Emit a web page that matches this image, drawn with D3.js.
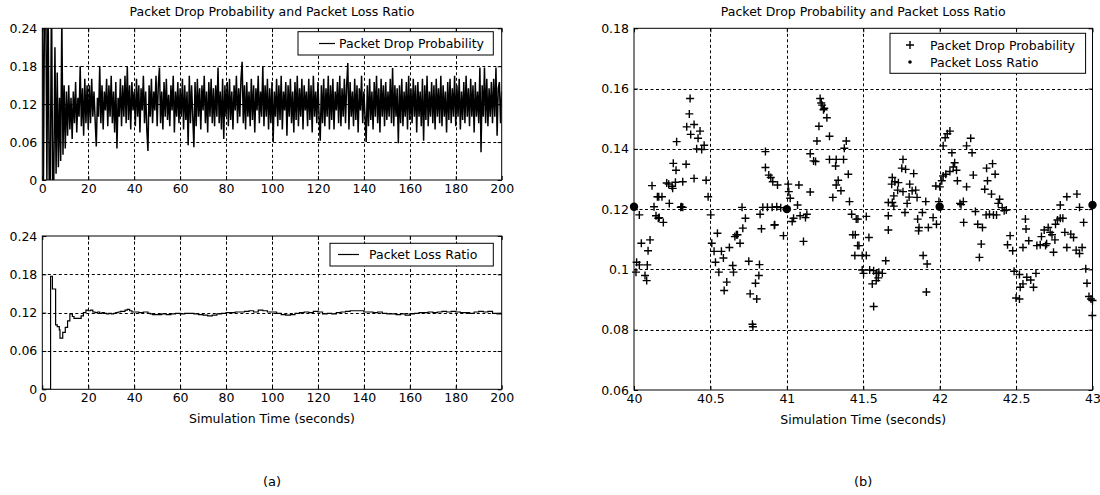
<!DOCTYPE html>
<html><head><meta charset="utf-8">
<script src="https://cdn.jsdelivr.net/npm/d3@7"></script>
<style>
body{margin:0;background:#fff}
text{font-family:"DejaVu Sans","Liberation Sans",Arial,sans-serif;fill:#000}
</style>
</head><body><svg id="c" width="1100" height="495"></svg>
<script>
// ---------------- data ----------------
const titleText = "Packet Drop Probability and Packet Loss Ratio";
const xAxisLabel = "Simulation Time (seconds)";
const panelLabels = ["(a)", "(b)"];
const legendDrop = "Packet Drop Probability";
const legendLoss = "Packet Loss Ratio";

const leftXTicks = [0, 20, 40, 60, 80, 100, 120, 140, 160, 180, 200];
const leftXTickLabels = ["0","20","40","60","80","100","120","140","160","180","200"];
const leftYTicks = [0, 0.06, 0.12, 0.18, 0.24];
const leftYTickLabels = ["0","0.06","0.12","0.18","0.24"];
const rightXTicks = [40, 40.5, 41, 41.5, 42, 42.5, 43];
const rightXTickLabels = ["40","40.5","41","41.5","42","42.5","43"];
const rightYTicks = [0.06, 0.08, 0.1, 0.12, 0.14, 0.16, 0.18];
const rightYTickLabels = ["0.06","0.08","0.1","0.12","0.14","0.16","0.18"];

// (a) top: packet drop probability, sampled every 0.5 s from t = 0 to 200
const dropSampleStep = 0.5;
const dropValues = [
0.30,0.00,0.30,0.30,0.00,0.30,0.00,0.00,0.30,0.00,
0.00,0.21,0.01,0.17,0.02,0.13,0.03,0.26,0.04,0.15,
0.05,
0.14,0.07,0.15,0.08,0.13,0.065,0.14,0.09,0.155,0.075,
0.13,0.10,0.18,0.085,0.145,0.07,0.16,0.09,0.15,0.08,
0.15,0.09,0.16,0.10,0.14,0.095,0.053,0.13,0.10,0.18,
0.09,0.15,0.08,0.14,0.11,0.16,0.085,0.15,0.10,0.165,
0.09,0.14,0.075,0.155,0.05,0.13,0.10,0.16,0.085,0.15,
0.10,0.165,0.09,0.18,0.095,0.15,0.08,0.155,0.11,0.14,
0.085,0.16,0.10,0.15,0.075,0.145,0.11,0.165,0.09,0.14,
0.08,0.046,0.15,0.10,0.16,0.09,0.14,0.11,0.165,0.085,
0.15,0.178,0.09,0.14,0.08,0.155,0.10,0.16,0.095,0.135,
0.085,0.15,0.11,0.165,0.075,0.14,0.10,0.155,0.09,0.145,
0.10,0.16,0.08,0.15,0.095,0.14,0.055,0.165,0.09,0.15,
0.10,0.052,0.155,0.085,0.16,0.10,0.145,0.08,0.15,0.11,
0.165,0.09,0.14,0.075,0.155,0.10,0.16,0.09,0.145,0.085,
0.15,0.10,0.178,0.09,0.14,0.08,0.16,0.065,0.15,0.10,
0.155,0.085,0.16,0.095,0.14,0.08,0.15,0.11,0.165,0.09,
0.145,0.10,0.16,0.187,0.09,0.15,0.08,0.155,0.10,0.14,
0.085,0.16,0.095,0.15,0.075,0.145,0.11,0.165,0.09,0.14,
0.10,0.18,0.085,0.15,0.10,0.16,0.08,0.145,0.09,0.155,
0.06,0.14,0.10,0.16,0.085,0.15,0.095,0.165,0.08,0.14,
0.11,0.155,0.07,0.15,0.10,0.16,0.09,0.14,0.075,0.155,
0.095,0.165,0.085,0.145,0.10,0.16,0.08,0.15,0.11,0.14,
0.085,0.16,0.095,0.15,0.075,0.165,0.10,0.14,0.09,0.155,
0.10,0.062,0.15,0.09,0.16,0.085,0.145,0.10,0.165,0.08,
0.15,0.095,0.16,0.08,0.14,0.11,0.155,0.09,0.165,0.085,
0.145,0.10,0.16,0.09,0.15,0.185,0.08,0.155,0.10,0.14,
0.085,0.16,0.095,0.15,0.075,0.145,0.11,0.165,0.09,0.14,
0.10,0.06,0.15,0.085,0.16,0.095,0.14,0.08,0.155,0.10,
0.165,0.09,0.145,0.075,0.16,0.10,0.15,0.085,0.155,0.095,
0.14,0.10,0.16,0.09,0.177,0.085,0.15,0.10,0.145,0.058,
0.15,0.09,0.16,0.085,0.14,0.10,0.155,0.08,0.165,0.095,
0.145,0.09,0.16,0.10,0.15,0.075,0.155,0.10,0.14,0.085,
0.16,0.062,0.15,0.095,0.165,0.085,0.14,0.10,0.155,0.09,
0.15,0.08,0.16,0.10,0.145,0.09,0.165,0.085,0.15,0.10,
0.14,0.075,0.155,0.095,0.16,0.09,0.145,0.10,0.165,0.085,
0.15,0.10,0.16,0.08,0.14,0.095,0.155,0.09,0.165,0.10,
0.145,0.085,0.16,0.10,0.15,0.075,0.155,0.10,0.14,0.09,
0.178,0.044,0.15,0.10,0.178,0.09,0.16,0.085,0.145,0.10,
0.155,0.09,0.16,0.10,0.178,0.07,0.145,0.155,0.09,0.14
];

// (a) bottom: packet loss ratio, [time, value] steps
const lossSeries = [
[0,0],[3.6,0.177],[4.4,0.157],[5.8,0.101],[6.5,0.098],[7.4,0.093],[7.7,0.080],[8.9,0.089],
[10.0,0.097],[11.0,0.107],[12.0,0.118],[13.1,0.114],[13.8,0.111],[16.9,0.115],[17.9,0.120],[19.0,0.124],
[20,0.123],[21,0.124],[22,0.121],[23,0.120],[24,0.121],[25,0.119],[26,0.120],[27,0.119],[28,0.118],[29,0.119],
[30,0.118],[31,0.119],[32,0.120],[33,0.121],[34,0.122],[35,0.122],[36,0.124],[37,0.125],[38,0.123],[39,0.121],
[40,0.121],[42,0.120],[44,0.121],[46,0.119],[47,0.118],[48,0.117],[50,0.117],[52,0.118],[54,0.117],[56,0.118],
[58,0.119],[60,0.118],[62,0.119],[64,0.119],[66,0.118],[68,0.117],[70,0.116],[72,0.115],[74,0.116],[76,0.118],
[78,0.119],[80,0.120],[82,0.120],[84,0.121],[86,0.121],[88,0.122],[90,0.123],[92,0.121],[94,0.124],[96,0.123],
[98,0.121],[100,0.121],[102,0.119],[104,0.117],[106,0.116],[108,0.117],[110,0.119],[112,0.120],[114,0.121],[116,0.120],
[118,0.122],[120,0.121],[122,0.118],[124,0.119],[126,0.118],[128,0.120],[130,0.121],[132,0.122],[134,0.123],[136,0.123],
[138,0.123],[140,0.121],[142,0.121],[144,0.120],[146,0.121],[148,0.119],[150,0.118],[152,0.118],[154,0.117],[156,0.118],
[158,0.116],[160,0.118],[162,0.119],[164,0.120],[166,0.120],[168,0.121],[170,0.120],[172,0.121],[174,0.122],[176,0.121],
[178,0.122],[180,0.121],[182,0.120],[184,0.120],[186,0.119],[188,0.121],[190,0.122],[192,0.121],[194,0.122],[196,0.119],
[198,0.118],[200,0.119]
];

// (b): zoomed drop probability samples [time, value]
const zoomDropPoints = [
[40.367,0.1567],[40.362,0.1516],[40.345,0.1473],[40.393,0.1481],[40.371,0.1448],[40.419,0.1435],[40.432,0.1459],[40.41,0.140],
[40.443,0.1398],[40.459,0.1412],[40.279,0.1424],[40.257,0.1352],[40.275,0.1329],[40.341,0.1349],[40.393,0.1302],[40.472,0.1296],
[40.485,0.1241],[40.502,0.1181],[40.118,0.1278],[40.214,0.1287],[40.227,0.1283],[40.249,0.1276],[40.271,0.1289],[40.319,0.1291],
[40.253,0.1269],[40.153,0.1241],[40.183,0.1241],[40.231,0.1219],[40.306,0.1206],[40.319,0.1206],[40.131,0.1208],[40.035,0.1181],
[40.144,0.1178],[40.159,0.117],[40.192,0.1156],[40.048,0.1087],[40.105,0.1098],[40.092,0.1062],[40.017,0.1024],[40.035,0.1015],
[40.087,0.1015],[40.013,0.0991],[40.072,0.098],[40.083,0.0963],[40.162,0.1241],[40.165,0.1172],[40.31,0.1208],
[40.509,0.1087],[40.546,0.112],[40.524,0.106],[40.572,0.106],[40.533,0.1024],[40.585,0.1038],[40.624,0.1073],[40.646,0.1013],
[40.555,0.0991],[40.607,0.0958],[40.59,0.093],[40.66,0.1109],[40.677,0.1115],[40.694,0.1087],[40.712,0.1137],[40.729,0.117],
[40.707,0.1206],[40.651,0.0991],[40.751,0.1027],[40.821,0.1016],[40.817,0.098],[40.795,0.0954],[40.76,0.0919],[40.803,0.0902],
[40.775,0.0818],[40.778,0.081],[40.825,0.1183],[40.834,0.1135],[40.843,0.1206],[40.873,0.1206],[40.904,0.1206],[40.921,0.1148],
[40.934,0.1208],[40.86,0.1391],[40.86,0.1338],[40.882,0.1313],[40.895,0.1305],[40.908,0.1291],[40.939,0.128],[40.978,0.1112],
[41.009,0.1283],[41.013,0.1258],[41.022,0.1236],[41.079,0.128],[41.153,0.1257],[41.044,0.117],[41.07,0.1214],[41.087,0.1178],
[41.131,0.1183],[41.109,0.1093],[41.122,0.1172],[41.035,0.1159],[40.918,0.1147],[40.96,0.1205],[40.67,0.1115],
[41.218,0.1567],[41.231,0.1545],[41.24,0.153],[41.262,0.1503],[41.21,0.1475],[41.279,0.1442],[41.197,0.1426],[41.389,0.1426],
[41.153,0.1384],[41.175,0.136],[41.188,0.1358],[41.279,0.1365],[41.323,0.1365],[41.371,0.1365],[41.376,0.1402],[41.319,0.1343],
[41.336,0.1296],[41.323,0.128],[41.402,0.1316],[41.301,0.1239],[41.354,0.1261],[41.41,0.1225],[41.424,0.1183],[41.454,0.1167],
[41.432,0.1115],[41.448,0.1115],[41.463,0.1079],[41.445,0.1046],[41.465,0.1167],[41.472,0.1079],[41.493,0.1046],[41.52,0.1046],
[41.537,0.1106],[41.52,0.1176],[41.225,0.1552],[41.245,0.1535],
[41.493,0.0998],[41.502,0.0987],[41.542,0.0998],[41.568,0.0996],[41.585,0.0987],[41.602,0.0991],[41.625,0.0987],[41.598,0.0972],
[41.585,0.0963],[41.559,0.0952],[41.568,0.0877],[41.647,0.1029],[41.664,0.1222],[41.664,0.1178],[41.664,0.1131],[41.69,0.1222],
[41.7,0.1244],[41.686,0.1283],[41.69,0.1305],[41.707,0.1291],[41.725,0.1263],[41.73,0.1288],[41.752,0.1336],[41.76,0.1365],
[41.777,0.1332],[41.83,0.1318],[41.804,0.1283],[41.82,0.1261],[41.843,0.1263],[41.852,0.1239],[41.787,0.1219],[41.773,0.1189],
[41.856,0.1167],[41.865,0.1139],[41.887,0.1189],[41.926,0.1139],[41.862,0.1128],[41.909,0.1225],[41.957,0.1172],[41.979,0.115],
[41.892,0.1046],[41.918,0.1018],[41.913,0.0925],[41.975,0.1277],[41.7,0.121],[41.76,0.1258],[41.8,0.124],
[42.001,0.1274],[42.014,0.1294],[42.023,0.131],[42.04,0.1316],[42.067,0.1325],[42.089,0.134],[42.098,0.1354],[42.11,0.1329],
[42.116,0.1294],[42.176,0.1274],[42.22,0.1313],[42.023,0.141],[42.036,0.1437],[42.05,0.145],[42.067,0.1459],[42.08,0.1387],
[42.176,0.141],[42.203,0.1435],[42.212,0.1387],[42.133,0.1219],[42.155,0.1225],[42.157,0.1156],[42.234,0.1192],[42.249,0.115],
[42.28,0.1139],[42.272,0.1084],[42.26,0.104],[42.307,0.1336],[42.346,0.1351],[42.363,0.1316],[42.313,0.1294],[42.295,0.1266],
[42.339,0.125],[42.392,0.1233],[42.383,0.1219],[42.409,0.1205],[42.422,0.1195],[42.304,0.1181],[42.326,0.1183],[42.352,0.1181],
[42.372,0.1181],[42.436,0.1197],[42.14,0.1215],[41.995,0.1225],
[42.461,0.1112],[42.444,0.1082],[42.478,0.1062],[42.487,0.0994],[42.522,0.0983],[42.545,0.0952],[42.522,0.0902],[42.527,0.0941],
[42.57,0.0974],[42.596,0.0965],[42.614,0.0941],[42.63,0.0987],[42.561,0.1167],[42.565,0.1134],[42.583,0.1095],[42.545,0.1073],
[42.636,0.1079],[42.658,0.1082],[42.666,0.1109],[42.684,0.1131],[42.693,0.1079],[42.71,0.1139],[42.723,0.1123],[42.745,0.1057],
[42.754,0.1098],[42.758,0.115],[42.771,0.1164],[42.789,0.117],[42.806,0.117],[42.819,0.1123],[42.832,0.1073],[42.858,0.1117],
[42.876,0.1106],[42.893,0.1064],[42.932,0.1073],[42.915,0.1053],[42.789,0.1214],[42.832,0.1241],[42.898,0.125],[42.915,0.1206],
[42.942,0.1156],[42.956,0.1002],[42.964,0.0954],[42.977,0.091],[42.99,0.0902],[43.0,0.0897],[42.999,0.0847],[42.7,0.1085],
[42.735,0.1115],[42.5,0.0905]
];
// (b): packet loss ratio once per second
const zoomLossPoints = [[40,0.1208],[41,0.1200],[42,0.1208],[43,0.1214]];

// ---------------- drawing ----------------
const svg = d3.select("#c");
const FONT = 12.5;

const xL = d3.scaleLinear().domain([0, 200]).range([42.3, 501.7]);
const yTop = d3.scaleLinear().domain([0, 0.24]).range([180, 28.3]);
const yBot = d3.scaleLinear().domain([0, 0.24]).range([389.3, 236]);
const xR = d3.scaleLinear().domain([40, 43]).range([634, 1092.5]);
const yR = d3.scaleLinear().domain([0.06, 0.18]).range([390, 28.3]);

function grid(x, y, xt, yt) {
  const [xa, xb] = x.range(), [yb, ya] = y.range();
  const g = svg.append("g").attr("stroke", "#000").attr("stroke-width", 1).attr("stroke-dasharray", "3,2.5");
  g.selectAll(null).data(xt.slice(1, -1)).join("line")
    .attr("x1", d => Math.round(x(d)) + 0.5).attr("x2", d => Math.round(x(d)) + 0.5).attr("y1", ya).attr("y2", yb);
  g.selectAll(null).data(yt.slice(1, -1)).join("line")
    .attr("y1", d => Math.round(y(d)) + 0.5).attr("y2", d => Math.round(y(d)) + 0.5).attr("x1", xa).attr("x2", xb);
}

function frame(x, y, xt, xtl, yt, ytl) {
  const [xa, xb] = x.range(), [yb, ya] = y.range();
  const styleAxis = g => {
    g.select(".domain").remove();
    g.attr("font-family", null).attr("font-size", FONT);
    g.selectAll("line").attr("stroke", "#000");
  };
  svg.append("g").attr("transform", `translate(0,${yb})`)
    .call(d3.axisBottom(x).tickValues(xt).tickFormat((d, i) => xtl[i]).tickSizeInner(-4).tickSizeOuter(0).tickPadding(4))
    .call(styleAxis);
  svg.append("g").attr("transform", `translate(0,${ya})`)
    .call(d3.axisTop(x).tickValues(xt).tickFormat("").tickSizeInner(-4).tickSizeOuter(0))
    .call(styleAxis);
  svg.append("g").attr("transform", `translate(${xa},0)`)
    .call(d3.axisLeft(y).tickValues(yt).tickFormat((d, i) => ytl[i]).tickSizeInner(-4).tickSizeOuter(0).tickPadding(5))
    .call(styleAxis);
  svg.append("g").attr("transform", `translate(${xb},0)`)
    .call(d3.axisRight(y).tickValues(yt).tickFormat("").tickSizeInner(-4).tickSizeOuter(0))
    .call(styleAxis);
  svg.append("rect").attr("x", xa).attr("y", ya).attr("width", xb - xa).attr("height", yb - ya)
    .attr("fill", "none").attr("stroke", "#000").attr("stroke-width", 1);
}

function clip(id, x, y) {
  const [xa, xb] = x.range(), [yb, ya] = y.range();
  svg.append("clipPath").attr("id", id).append("rect")
    .attr("x", xa).attr("y", ya).attr("width", xb - xa).attr("height", yb - ya);
}

// ---- (a) top ----
grid(xL, yTop, leftXTicks, leftYTicks);
clip("clipTop", xL, yTop);
const dropLine = d3.line().x((d, i) => xL(i * dropSampleStep)).y(d => yTop(d));
svg.append("path").attr("clip-path", "url(#clipTop)").attr("d", dropLine(dropValues))
  .attr("fill", "none").attr("stroke", "#000").attr("stroke-width", 1.5).attr("stroke-linejoin", "miter");
frame(xL, yTop, leftXTicks, leftXTickLabels, leftYTicks, leftYTickLabels);

// ---- (a) bottom ----
grid(xL, yBot, leftXTicks, leftYTicks);
clip("clipBot", xL, yBot);
const lossLine = d3.line().curve(d3.curveStepAfter).x(d => xL(d[0])).y(d => yBot(d[1]));
svg.append("path").attr("clip-path", "url(#clipBot)").attr("d", lossLine(lossSeries))
  .attr("fill", "none").attr("stroke", "#000").attr("stroke-width", 1.2);
frame(xL, yBot, leftXTicks, leftXTickLabels, leftYTicks, leftYTickLabels);

// ---- (b) ----
grid(xR, yR, rightXTicks, rightYTicks);
const plus = "M-4,0H4M0,-4V4";
svg.append("g").selectAll("path").data(zoomDropPoints).join("path")
  .attr("transform", d => `translate(${xR(d[0])},${yR(d[1])})`).attr("d", plus)
  .attr("stroke", "#000").attr("stroke-width", 1.4).attr("fill", "none");
frame(xR, yR, rightXTicks, rightXTickLabels, rightYTicks, rightYTickLabels);
svg.append("g").selectAll("circle").data(zoomLossPoints).join("circle")
  .attr("cx", d => xR(d[0])).attr("cy", d => yR(d[1])).attr("r", 4.2).attr("fill", "#000");

// ---- titles, labels ----
const cL = (xL.range()[0] + xL.range()[1]) / 2, cR = (xR.range()[0] + xR.range()[1]) / 2;
function txt(x, y, s, anchor = "middle", size = FONT) {
  svg.append("text").attr("x", x).attr("y", y).attr("text-anchor", anchor).attr("font-size", size).text(s);
}
txt(cL, 16, titleText);
txt(cR, 16, titleText);
txt(cL, 423, xAxisLabel);
txt(cR, 424, xAxisLabel);
txt(cL, 486, panelLabels[0], "middle", 13);
txt(cR, 486, panelLabels[1], "middle", 13);

// ---- legends ----
function legendBox(x, y, w, h) {
  svg.append("rect").attr("x", x).attr("y", y).attr("width", w).attr("height", h)
    .attr("fill", "#fff").attr("stroke", "#000").attr("stroke-width", 1);
}
legendBox(298, 31.7, 195.3, 23.3);
svg.append("line").attr("x1", 319).attr("x2", 335).attr("y1", 43.5).attr("y2", 43.5).attr("stroke", "#000").attr("stroke-width", 1.2);
txt(339, 48, legendDrop, "start");

legendBox(330, 243.3, 163.3, 22.7);
svg.append("line").attr("x1", 338).attr("x2", 359).attr("y1", 254.5).attr("y2", 254.5).attr("stroke", "#000").attr("stroke-width", 1.2);
txt(369, 259, legendLoss, "start");

legendBox(890, 33.3, 195.6, 40);
svg.append("path").attr("transform", "translate(910,45)").attr("d", plus).attr("stroke", "#000").attr("stroke-width", 1.4);
txt(930, 49.5, legendDrop, "start");
svg.append("circle").attr("cx", 910).attr("cy", 62).attr("r", 1.8).attr("fill", "#000");
txt(930, 66.5, legendLoss, "start");
</script>
</body></html>
